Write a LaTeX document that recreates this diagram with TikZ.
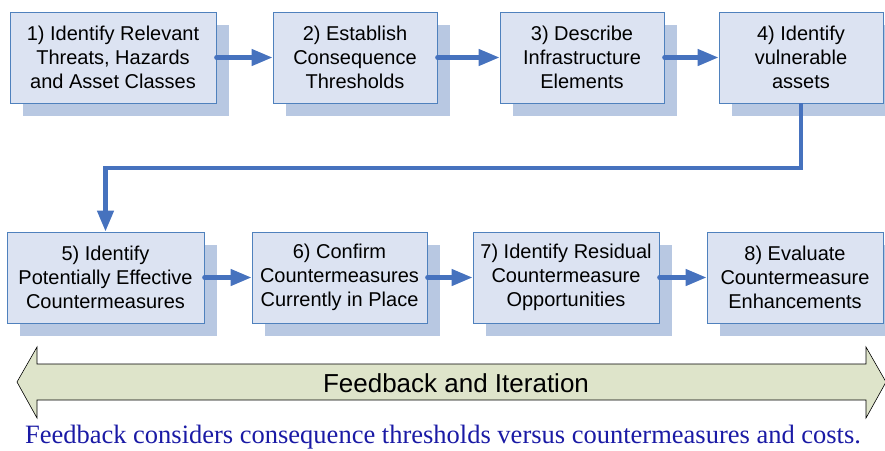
\documentclass[tikz,border=0pt]{standalone}
\usepackage{fontspec}
\setmainfont{Liberation Sans}
\newfontfamily\capfont{Liberation Serif}
\usetikzlibrary{arrows.meta,shadows}
\definecolor{boxfill}{RGB}{220,227,242}
\definecolor{boxline}{RGB}{79,129,189}
\definecolor{shadowc}{RGB}{184,200,226}
\definecolor{arrowc}{RGB}{70,114,190}
\definecolor{bigfill}{RGB}{222,228,202}
\definecolor{capc}{RGB}{26,26,165}
\tikzset{
  stepbox/.style={draw=boxline, line width=0.9pt, fill=boxfill, align=center,
    minimum height=91pt, inner sep=2pt,
    font=\fontsize{20}{24}\selectfont,
    drop shadow={shadow xshift=13pt, shadow yshift=-13pt, fill=shadowc, opacity=1}},
  flow/.style={draw=arrowc, line width=4.5pt, line cap=round,
    -{Triangle[length=21pt,width=16pt]}},
}
\begin{document}
\begin{tikzpicture}[x=1pt,y=-1pt]
\useasboundingbox (0,0) rectangle (885,450);
\node[stepbox, minimum width=206pt] (b1) at (113,57.5) {1) Identify Relevant\\Threats, Hazards\\and Asset Classes};
\node[stepbox, minimum width=164pt] (b2) at (355,57.5) {2) Establish\\Consequence\\Thresholds};
\node[stepbox, minimum width=164pt] (b3) at (582,57.5) {3) Describe\\Infrastructure\\Elements};
\node[stepbox, minimum width=164pt] (b4) at (801,57.5) {4) Identify\\vulnerable\\assets};
\node[stepbox, minimum width=197pt] (b5) at (105.5,277.5) {5) Identify\\Potentially Effective\\Countermeasures};
\node[stepbox, minimum width=175pt] (b6) at (339.5,277.5) {6) Confirm\\Countermeasures\\Currently in Place};
\node[stepbox, minimum width=186pt] (b7) at (566,277.5) {7) Identify Residual\\Countermeasure\\Opportunities};
\node[stepbox, minimum width=176pt] (b8) at (795,277.5) {8) Evaluate\\Countermeasure\\Enhancements};
\draw[flow] (b1.east) -- (b2.west);
\draw[flow] (b2.east) -- (b3.west);
\draw[flow] (b3.east) -- (b4.west);
\draw[flow, line cap=butt] (b4.south) -- (b4.south |- 0,168) -- (b5.north |- 0,168) -- (b5.north);
\draw[flow] (b5.east) -- (b6.west);
\draw[flow] (b6.east) -- (b7.west);
\draw[flow] (b7.east) -- (b8.west);
\draw[fill=bigfill, line width=0.6pt] (17,382) -- (37,347) -- (37,364) -- (866,364) -- (866,347) -- (886,382) -- (866,418) -- (866,400) -- (37,400) -- (37,418) -- cycle;
\node[font=\fontsize{26}{30}\selectfont] (fb) at (456,383) {Feedback and Iteration};
\node[font=\capfont\fontsize{26.5}{30}\selectfont, text=capc] (cap) at (443,437) {Feedback considers consequence thresholds versus countermeasures and costs.};
\end{tikzpicture}
\end{document}
